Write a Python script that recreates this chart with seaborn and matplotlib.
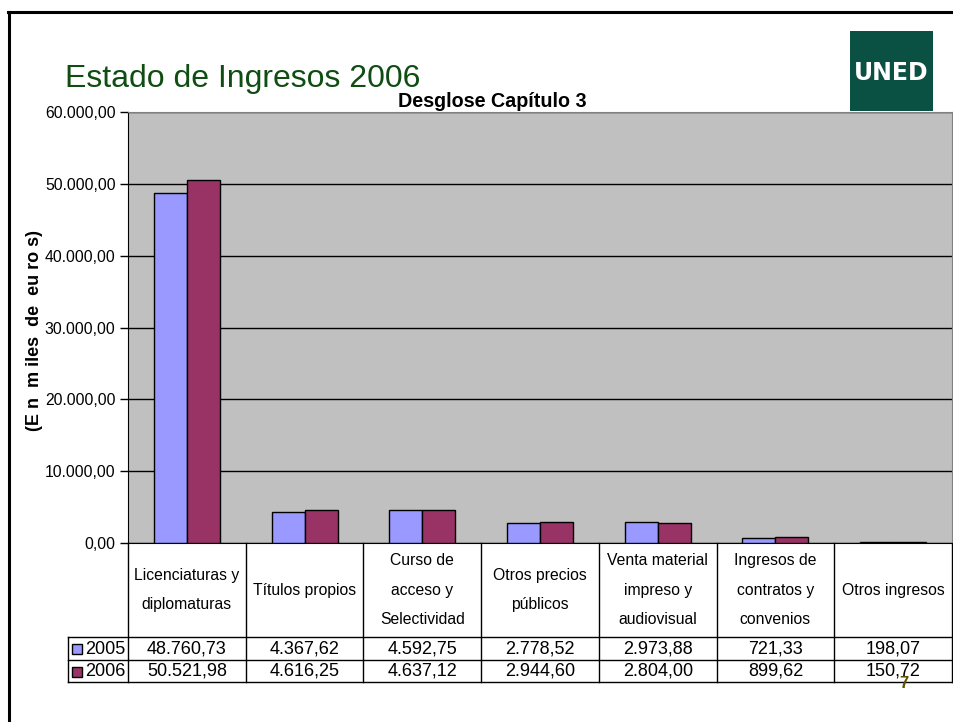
import pandas as pd
import matplotlib
matplotlib.use("Agg")
import matplotlib.pyplot as plt
from matplotlib.lines import Line2D
from matplotlib.patches import Rectangle
import seaborn as sns

# Data
categories = ["Licenciaturas y\ndiplomaturas", "Títulos propios", "Curso de\nacceso y\nSelectividad",
              "Otros precios\npúblicos", "Venta material\nimpreso y\naudiovisual",
              "Ingresos de\ncontratos y\nconvenios", "Otros ingresos"]
years = ["2005", "2006"]
values_2005 = [48760.73, 4367.62, 4592.75, 2778.52, 2973.88, 721.33, 198.07]
values_2006 = [50521.98, 4616.25, 4637.12, 2944.60, 2804.00, 899.62, 150.72]
colors = ["#9999FF", "#993366"]

df = pd.DataFrame({
    "cat": categories * 2,
    "year": [years[0]] * 7 + [years[1]] * 7,
    "value": values_2005 + values_2006,
})

plt.rcParams["font.family"] = ["Liberation Sans", "DejaVu Sans"]


def es_fmt(v):
    return f"{v:,.2f}".replace(",", "X").replace(".", ",").replace("X", ".")


W, H = 954, 722
fig = plt.figure(figsize=(W / 100, H / 100), dpi=100)
fig.patch.set_facecolor("white")

L, R, T, B = 128, 952, 112, 543
ax = fig.add_axes([L / W, 1 - B / H, (R - L) / W, (B - T) / H])
ax.set_facecolor("#C0C0C0")

sns.barplot(data=df, x="cat", y="value", hue="year", palette=colors, width=0.56,
            edgecolor="black", linewidth=1, saturation=1, legend=False, ax=ax, zorder=3)

ax.set_xlim(-0.5, 6.5)
ax.set_ylim(0, 60000)
ax.set_yticks(range(0, 60001, 10000))
ax.set_yticklabels([es_fmt(v) for v in range(0, 60001, 10000)], fontsize=11.3)
ax.tick_params(axis="y", length=6, width=1, color="black", pad=3)
ax.set_xticks([])
ax.set_xlabel("")
ax.set_ylabel("")
ax.yaxis.grid(True, color="black", linewidth=1, zorder=1)
ax.set_axisbelow(True)
for s in ["top", "right"]:
    ax.spines[s].set_color("#808080")
ax.spines["left"].set_color("black")
ax.spines["bottom"].set_color("black")

# data table below the plot
cw = (R - L) / 7


def yf(p):
    return (B - p) / (B - T)


def xd(p):
    return -0.5 + (p - L) / cw


tr = ax.get_xaxis_transform()
for p in [637, 660, 682]:
    ax.add_line(Line2D([xd(68), 6.5], [yf(p), yf(p)], transform=tr, color="black", lw=1, clip_on=False))
for i in range(8):
    ax.add_line(Line2D([i - 0.5, i - 0.5], [0, yf(682)], transform=tr, color="black", lw=1, clip_on=False))
ax.add_line(Line2D([xd(68), xd(68)], [yf(637), yf(682)], transform=tr, color="black", lw=1, clip_on=False))

for i, c in enumerate(categories):
    ax.text(i, yf(590), c, transform=tr, ha="center", va="center", fontsize=11.3,
            linespacing=2.2, clip_on=False)
    ax.text(i, yf(648.5), es_fmt(values_2005[i]), transform=tr, ha="center", va="center",
            fontsize=13, clip_on=False)
    ax.text(i, yf(671), es_fmt(values_2006[i]), transform=tr, ha="center", va="center",
            fontsize=13, clip_on=False)

for j, (yr, col) in enumerate(zip(years, colors)):
    yc = 649 + j * 22.5
    fig.add_artist(Rectangle((72 / W, 1 - (yc + 5) / H), 10 / W, 10 / H, facecolor=col,
                             edgecolor="black", lw=1, transform=fig.transFigure))
    fig.text(85 / W, 1 - yc / H, yr, ha="left", va="center", fontsize=13)

# slide decorations
fig.add_artist(Line2D([8.5 / W, 1], [1 - 12 / H, 1 - 12 / H], color="black", lw=2.2))
fig.add_artist(Line2D([9.5 / W, 9.5 / W], [0, 1 - 12 / H], color="black", lw=2.2))
fig.text(65 / W, 1 - 87 / H, "Estado de Ingresos 2006", fontsize=23, color="#0F4D12",
         ha="left", va="baseline")
fig.text(492 / W, 1 - 107 / H, "Desglose Capítulo 3", fontsize=14.2, fontweight="bold",
         ha="center", va="baseline")
fig.text(35 / W, 1 - 330 / H, "(E n  m iles  de  eu ro s)", fontsize=13, fontweight="bold",
         rotation=90, ha="center", va="center")

fig.add_artist(Rectangle((850 / W, 1 - 111 / H), 83 / W, 80 / H, facecolor="#0B5143",
                         edgecolor="none", transform=fig.transFigure, zorder=5))
fig.text(891 / W, 1 - 73 / H, "UNED", color="white", fontsize=17, fontweight="bold",
         family=["DejaVu Sans"], ha="center", va="center", zorder=6)
fig.text(904 / W, 1 - 683 / H, "7", color="#5C5200", fontsize=12, fontweight="bold",
         ha="center", va="center")

fig.savefig("out.png", dpi=100)
